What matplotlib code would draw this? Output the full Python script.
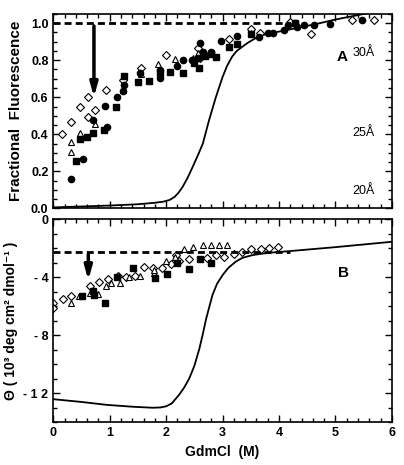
import matplotlib
matplotlib.use("Agg")
import matplotlib.pyplot as plt
from matplotlib.ticker import MultipleLocator, FixedLocator

plt.rcParams['font.family'] = ['Liberation Sans', 'DejaVu Sans']
plt.rcParams['font.weight'] = 'bold'

# ---- panel A : fractional fluorescence ----
a_circ_x = [0.31, 0.52, 0.71, 0.91, 0.95, 1.12, 1.23, 1.25, 1.54, 1.89, 1.89, 2.19, 2.29, 2.46, 2.56,
            2.6, 2.66, 2.79, 2.97, 3.26, 3.65, 3.81, 3.89, 4.09, 4.16, 4.29, 4.32, 4.44, 4.62, 4.91, 5.47]
a_circ_y = [0.161, 0.269, 0.476, 0.552, 0.437, 0.599, 0.635, 0.666, 0.729, 0.747, 0.702, 0.77, 0.80, 0.801, 0.814,
            0.895, 0.843, 0.846, 0.904, 0.933, 0.924, 0.949, 0.945, 0.962, 0.99, 0.999, 0.978, 0.993, 0.993, 0.998, 1.017]
a_sq_x = [0.41, 0.48, 0.59, 0.71, 0.89, 1.11, 1.25, 1.5, 1.69, 1.89, 2.06, 2.3, 2.5, 2.59, 2.68, 2.79, 2.89,
          3.12, 3.26, 3.5, 4.28]
a_sq_y = [0.254, 0.377, 0.383, 0.408, 0.422, 0.549, 0.716, 0.68, 0.689, 0.731, 0.738, 0.729, 0.783, 0.76, 0.823,
          0.834, 0.819, 0.87, 0.89, 0.94, 1.0]
a_dia_x = [0.16, 0.31, 0.48, 0.62, 0.62, 0.74, 0.93, 1.24, 1.55, 2.0, 2.56, 2.6, 3.12, 3.5, 3.66, 4.2, 4.56, 5.29, 5.69]
a_dia_y = [0.40, 0.467, 0.547, 0.60, 0.493, 0.53, 0.64, 0.693, 0.756, 0.828, 0.865, 0.81, 0.913, 0.967, 0.946,
           1.008, 0.942, 1.02, 1.02]
a_tri_x = [0.31, 0.31, 0.48, 0.74, 1.24, 1.55, 1.85, 2.16, 2.47, 2.56, 3.5]
a_tri_y = [0.359, 0.305, 0.408, 0.455, 0.639, 0.725, 0.78, 0.805, 0.81, 0.838, 0.946]
a_fit_x = [0.0, 0.5, 1.0, 1.5, 1.8, 1.95, 2.06, 2.15, 2.22, 2.29, 2.38, 2.47, 2.56, 2.65, 2.76, 2.88, 2.94,
           3.0, 3.08, 3.17, 3.25, 3.35, 3.45, 3.59, 3.7, 3.82, 4.06, 4.65, 5.0, 5.5, 6.0]
a_fit_y = [0.005, 0.01, 0.015, 0.022, 0.03, 0.036, 0.045, 0.062, 0.085, 0.115, 0.165, 0.224, 0.285, 0.35,
           0.476, 0.60, 0.655, 0.71, 0.77, 0.82, 0.85, 0.873, 0.895, 0.92, 0.935, 0.945, 0.958, 0.995, 1.02,
           1.05, 1.08]

# ---- panel B : ellipticity ----
b_dia_x = [0.0, 0.0, 0.18, 0.32, 0.65, 0.81, 0.97, 1.15, 1.28, 1.44, 1.6, 1.76, 1.93, 2.09, 2.18, 2.23, 2.41,
           2.72, 2.88, 3.03, 3.2, 3.35, 3.51, 3.68, 3.82, 3.99]
b_dia_y = [-5.79, -6.09, -5.52, -5.29, -4.6, -4.35, -4.14, -3.89, -3.98, -3.89, -3.31, -3.38, -3.38, -3.10, -2.46,
           -2.86, -2.76, -2.69, -2.46, -2.58, -2.39, -2.23, -2.07, -2.07, -2.0, -1.89]
b_tri_x = [0.31, 0.46, 0.65, 0.79, 0.93, 1.03, 1.18, 1.34, 1.54, 1.79, 1.79, 2.0, 2.16, 2.31, 2.48, 2.65, 2.79,
           2.94, 3.08]
b_tri_y = [-5.79, -5.29, -5.1, -5.15, -4.6, -4.37, -4.37, -4.0, -3.89, -3.72, -3.5, -2.88, -2.58, -2.07, -1.89,
           -1.77, -1.77, -1.77, -1.77]
b_sq_x = [0.5, 0.71, 0.72, 0.91, 1.12, 1.41, 1.81, 2.02, 2.2, 2.4, 2.6, 2.79]
b_sq_y = [-5.27, -4.94, -5.22, -5.79, -3.96, -3.38, -4.03, -3.79, -3.03, -3.43, -2.74, -3.03]
b_fit_x = [0.0, 0.5, 0.94, 1.4, 1.76, 1.9, 2.0, 2.1, 2.23, 2.32, 2.41, 2.5, 2.59, 2.65, 2.71, 2.77, 2.82, 2.9,
           3.0, 3.1, 3.23, 3.35, 3.53, 3.7, 3.88, 4.17, 5.0, 6.0]
b_fit_y = [-12.41, -12.6, -12.8, -12.93, -13.0, -12.98, -12.9, -12.7, -12.1, -11.6, -10.97, -10.1, -8.9, -7.9,
           -6.83, -5.95, -5.22, -4.45, -3.84, -3.35, -2.92, -2.65, -2.46, -2.36, -2.28, -2.19, -1.91, -1.54]

a_ticks = [0.0, 0.2, 0.4, 0.6, 0.8, 1.0]
a_ticklabels = ['0.0', '0.2', '0.4', '0.6', '0.8', '1.0']
b_ticks = [-12, -8, -4, 0]
b_ticklabels = ['- 1 2', '- 8', '- 4', '0']
x_ticks = [0, 1, 2, 3, 4, 5, 6]

fig = plt.figure(figsize=(4.04, 4.65), dpi=100)
ax1 = fig.add_axes([0.132, 0.552, 0.838, 0.418])
ax2 = fig.add_axes([0.132, 0.092, 0.838, 0.436])

ms = 4.5
ax1.plot(a_fit_x, a_fit_y, color='black', lw=1.3)
ax1.plot(a_dia_x, a_dia_y, 'D', ms=3.8, mfc='white', mec='black', mew=0.8, ls='none')
ax1.plot(a_tri_x, a_tri_y, '^', ms=ms, mfc='white', mec='black', mew=0.8, ls='none')
ax1.plot(a_circ_x, a_circ_y, 'o', ms=ms, color='black', ls='none')
ax1.plot(a_sq_x, a_sq_y, 's', ms=ms, color='black', ls='none')
ax1.plot([0, 4.2], [1.0, 1.0], color='black', lw=2, ls=(0, (2.5, 1.5)))
ax1.annotate('', xy=(0.72, 0.585), xytext=(0.72, 1.0),
             arrowprops=dict(arrowstyle='-|>,head_width=0.22,head_length=0.8', color='black', lw=2.5))
ax1.text(5.11, 0.82, 'A', fontsize=11, fontweight='bold', ha='center', va='center')
ax1.text(5.5, 0.84, '30Å', fontsize=9, fontweight='normal', ha='center', va='center')
ax1.text(5.5, 0.405, '25Å', fontsize=9, fontweight='normal', ha='center', va='center')
ax1.text(5.5, 0.094, '20Å', fontsize=9, fontweight='normal', ha='center', va='center')

ax1.set_xlim(0, 6)
ax1.set_ylim(0, 1.05)
ax1.yaxis.set_major_locator(FixedLocator(a_ticks))
ax1.set_yticklabels(a_ticklabels)
ax1.yaxis.set_minor_locator(MultipleLocator(0.05))
ax1.set_ylabel('Fractional  Fluorescence', fontsize=11, fontweight='bold', labelpad=6)
ax1.tick_params(labelbottom=False)

ax2.plot(b_fit_x, b_fit_y, color='black', lw=1.3)
ax2.plot(b_dia_x, b_dia_y, 'D', ms=3.8, mfc='white', mec='black', mew=0.8, ls='none')
ax2.plot(b_tri_x, b_tri_y, '^', ms=ms, mfc='white', mec='black', mew=0.8, ls='none')
ax2.plot(b_sq_x, b_sq_y, 's', ms=ms, color='black', ls='none')
ax2.plot([0, 4.2], [-2.23, -2.23], color='black', lw=2, ls=(0, (2.5, 1.5)))
ax2.annotate('', xy=(0.62, -4.4), xytext=(0.62, -2.23),
             arrowprops=dict(arrowstyle='-|>,head_width=0.22,head_length=0.8', color='black', lw=2.5))
ax2.text(5.14, -3.68, 'B', fontsize=11, fontweight='bold', ha='center', va='center')

ax2.set_xlim(0, 6)
ax2.set_ylim(-14, 0)
ax2.yaxis.set_major_locator(FixedLocator(b_ticks))
ax2.set_yticklabels(b_ticklabels)
ax2.yaxis.set_minor_locator(MultipleLocator(1))
ax2.set_ylabel('Θ ( 10³ deg cm² dmol⁻¹ )', fontsize=10, fontweight='bold', labelpad=4)
ax2.set_xlabel('GdmCl  (M)', fontsize=10, fontweight='bold', labelpad=4)

for ax in (ax1, ax2):
    ax.xaxis.set_major_locator(FixedLocator(x_ticks))
    ax.xaxis.set_minor_locator(MultipleLocator(0.2))
    ax.tick_params(which='both', direction='in', top=True, right=True, width=1)
    ax.tick_params(which='major', length=5, labelsize=9)
    ax.tick_params(which='minor', length=3)
    for s in ax.spines.values():
        s.set_linewidth(1.2)
    for lab in ax.get_xticklabels() + ax.get_yticklabels():
        lab.set_fontweight('bold')

fig.savefig('out.png', dpi=100)
